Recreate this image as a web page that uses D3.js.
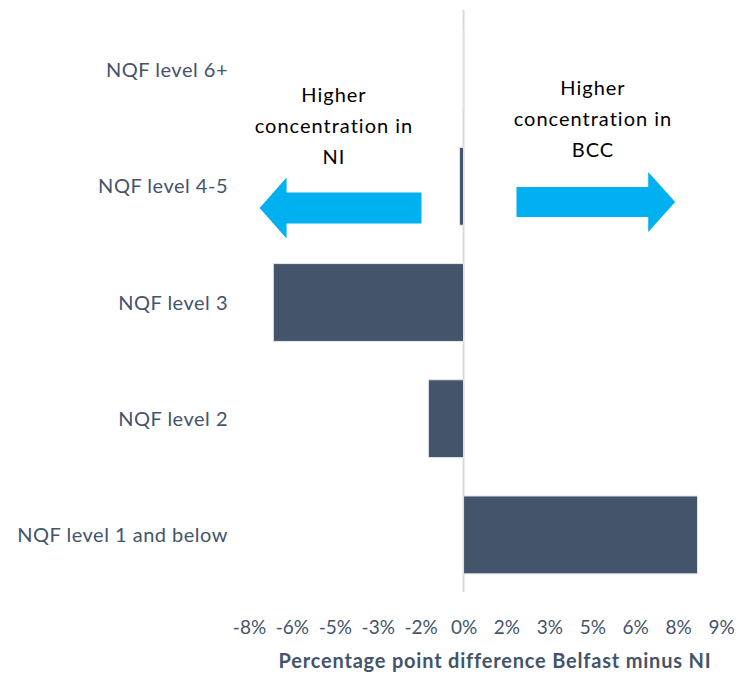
<!DOCTYPE html>
<html>
<head>
<meta charset="utf-8">
<script src="https://cdn.jsdelivr.net/npm/d3@7"></script>
<style>
  html, body { margin: 0; padding: 0; background: #ffffff; }
  svg { display: block; }
</style>
</head>
<body>
<svg id="chart" width="740" height="674"></svg>
<script>
// ---- data ----
const categories = ["NQF level 6+", "NQF level 4-5", "NQF level 3", "NQF level 2", "NQF level 1 and below"];
const values = [0.03, -0.14, -6.65, -1.23, 8.18];
const tickValues = [-7.5, -6, -4.5, -3, -1.5, 0, 1.5, 3, 4.5, 6, 7.5, 9];
const tickLabels = ["-8%", "-6%", "-5%", "-3%", "-2%", "0%", "2%", "3%", "5%", "6%", "8%", "9%"];
const axisTitle = "Percentage point difference Belfast minus NI";
const leftNote = ["Higher", "concentration in", "NI"];
const rightNote = ["Higher", "concentration in", "BCC"];

// ---- layout ----
const W = 740, H = 674;
const barColor = "#44546A";
const textColor = "#44546A";
const arrowColor = "#00B0F0";
const font = "Lato, 'Open Sans', sans-serif";

const svg = d3.select("#chart");

const x = d3.scaleLinear().domain([-7.5, 9]).range([249, 721]);
const y = d3.scaleBand().domain(categories).range([12, 593]).paddingInner(0.33).paddingOuter(0.165);

// zero axis line
svg.append("line")
  .attr("x1", x(0)).attr("x2", x(0))
  .attr("y1", 10).attr("y2", 592)
  .attr("stroke", "#d9d9d9").attr("stroke-width", 2);

// bars
svg.append("g").selectAll("rect")
  .data(categories.map((c, i) => ({ c, v: values[i] })))
  .join("rect")
  .attr("x", d => Math.min(x(0), x(d.v)))
  .attr("width", d => Math.max(1, Math.abs(x(d.v) - x(0))))
  .attr("y", d => y(d.c))
  .attr("height", y.bandwidth())
  .attr("fill", barColor)
  .attr("stroke", "#e4e7ec")
  .attr("stroke-width", 1);

// category labels
svg.append("g").selectAll("text")
  .data(categories)
  .join("text")
  .attr("x", 228)
  .attr("y", d => y(d) + y.bandwidth() / 2)
  .attr("dy", "0.35em")
  .attr("text-anchor", "end")
  .attr("font-family", font)
  .attr("font-size", 20)
  .attr("letter-spacing", "0.5px")
  .attr("fill", textColor)
  .text(d => d);

// x axis (labels only)
const xAxis = d3.axisBottom(x)
  .tickValues(tickValues)
  .tickFormat((d, i) => tickLabels[i])
  .tickSize(0)
  .tickPadding(0);
const gx = svg.append("g").attr("transform", "translate(0,620)").call(xAxis);
gx.select(".domain").remove();
gx.selectAll("text")
  .attr("font-family", font)
  .attr("font-size", 19)
  .attr("fill", textColor)
  .attr("dy", "0.71em");

// axis title
svg.append("text")
  .attr("x", 495).attr("y", 668)
  .attr("text-anchor", "middle")
  .attr("font-family", font)
  .attr("font-size", 20)
  .attr("letter-spacing", "0.8px")
  .attr("font-weight", "bold")
  .attr("fill", textColor)
  .text(axisTitle);

// arrows (annotation)
function arrow(x0, x1, yc, bodyH, headH, headL) {
  const dir = Math.sign(x1 - x0);
  const xh = x1 - dir * headL;
  return d3.line()([
    [x0, yc - bodyH / 2], [xh, yc - bodyH / 2], [xh, yc - headH / 2], [x1, yc],
    [xh, yc + headH / 2], [xh, yc + bodyH / 2], [x0, yc + bodyH / 2]
  ]) + "Z";
}
svg.append("path")
  .attr("d", arrow(x(-1.47), x(-7.13), 208, 31, 61, 27))
  .attr("fill", arrowColor);
svg.append("path")
  .attr("d", arrow(x(1.85), x(7.4), 202, 30, 60, 27))
  .attr("fill", arrowColor);

// annotation texts
function note(lines, cx, y0) {
  svg.append("text")
    .attr("text-anchor", "middle")
    .attr("font-family", font)
    .attr("font-size", 20)
    .attr("letter-spacing", "1px")
    .attr("fill", "#000000")
    .selectAll("tspan")
    .data(lines)
    .join("tspan")
    .attr("x", cx)
    .attr("y", (d, i) => y0 + i * 31)
    .text(d => d);
}
note(leftNote, 334, 102);
note(rightNote, 593, 95);
</script>
</body>
</html>
